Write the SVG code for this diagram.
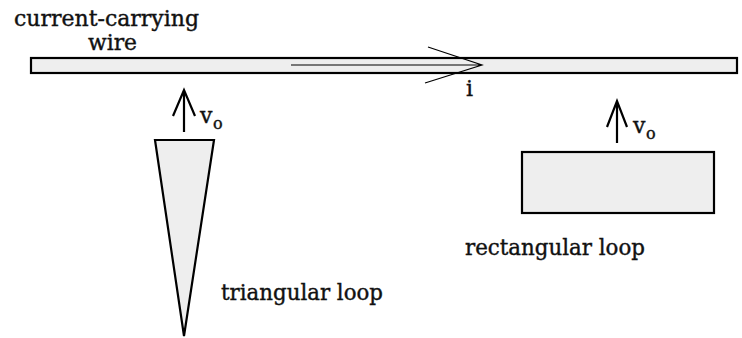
<svg xmlns="http://www.w3.org/2000/svg" width="742" height="338" viewBox="0 0 742 338">
<style>
text{font-family:"DejaVu Serif","Liberation Serif",serif;fill:#111;stroke:#111;stroke-width:0.4;font-size:22px}
.sub{font-size:16px}
.shape{fill:#eeeeee;stroke:#000;stroke-width:2.2}
.arr{fill:none;stroke:#000;stroke-width:2.2}
.thin{fill:none;stroke:#000;stroke-width:1.2}
</style>
<rect width="742" height="338" fill="#fff"/>
<g id="wire">
<rect class="shape" x="31" y="58" width="706" height="15"/>
<text x="14" y="26" textLength="185" lengthAdjust="spacingAndGlyphs">current-carrying</text>
<text x="88" y="50" textLength="49" lengthAdjust="spacingAndGlyphs">wire</text>
</g>
<g id="triangle">
<polygon class="shape" points="155,140 214,140 184,336"/>
<text x="221" y="300" textLength="162" lengthAdjust="spacingAndGlyphs">triangular loop</text>
</g>
<g id="rectangle">
<rect class="shape" x="522" y="152" width="192" height="61"/>
<text x="465" y="255" textLength="180" lengthAdjust="spacingAndGlyphs">rectangular loop</text>
</g>
<g id="connectors">
<path class="thin" d="M291,65 H482 M428,47 L482,65 L425,83"/>
<path class="arr" d="M184,132 V90 M173,116 L184,90 L195,116"/>
<path class="arr" d="M617,143 V101 M607,127 L617,101 L627,127"/>
</g>
<g id="labels">
<text x="466" y="96">i</text>
<text x="200" y="123">v</text><text class="sub" x="213" y="129">o</text>
<text x="633" y="133">v</text><text class="sub" x="646" y="139">o</text>
</g>
</svg>
